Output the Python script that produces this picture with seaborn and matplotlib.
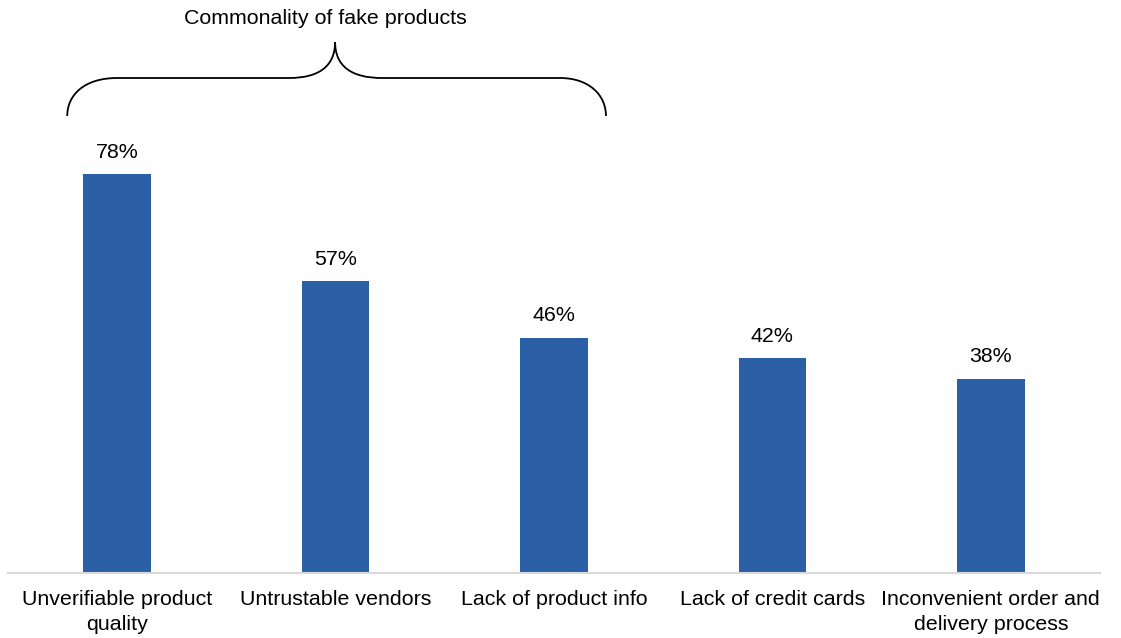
import numpy as np
import pandas as pd
import matplotlib
matplotlib.use('Agg')
import matplotlib.pyplot as plt
from matplotlib.path import Path
from matplotlib.patches import PathPatch
import seaborn as sns

# data
categories = ['Unverifiable product\nquality', 'Untrustable vendors', 'Lack of product info',
              'Lack of credit cards', 'Inconvenient order and\ndelivery process']
values = [78, 57, 46, 42, 38]
bracket_title = 'Commonality of fake products'

df = pd.DataFrame({'cat': categories, 'val': values})

sns.set_style('white')
plt.rcParams['font.family'] = ['Liberation Sans', 'DejaVu Sans']

W, H = 1121, 638
fig = plt.figure(figsize=(W/100, H/100), dpi=100)

# axes placement in pixels
x0, x1 = 8, 1100
ybase = 573
ppu = 5.115      # pixels per percent
ax = fig.add_axes([x0/W, (H-ybase)/H, (x1-x0)/W, 100*ppu/H])

_fs = 15.4
bar_col = '#2B5FA6'
sns.barplot(data=df, x='cat', y='val', ax=ax, color=bar_col, width=0.31,
            saturation=1, edgecolor='none')

ax.set_xlim(-0.5, 4.5)
ax.set_ylim(0, 100)
ax.set_xlabel('')
ax.set_ylabel('')
ax.set_yticks([])
for s in ['top', 'right', 'left']:
    ax.spines[s].set_visible(False)
ax.spines['bottom'].set_color('#d9d9d9')
ax.spines['bottom'].set_linewidth(1.5)
ax.tick_params(axis='x', length=0, pad=12, labelsize=_fs, labelcolor='black')
for t in ax.get_xticklabels():
    t.set_linespacing(1.45)

for i, v in enumerate(values):
    ax.text(i, v + 2.4, f'{v}%', ha='center', va='bottom', fontsize=_fs, color='black')

# brace (pixel coords -> data coords)
cx, step = 118, 218.5
def px2d(px, py):
    return ((px - cx)/step, (ybase - py)/ppu)

pts_px = [(68, 116),
          (68, 95), (85, 78), (118, 78),
          (290, 78),
          (320, 78), (336, 66), (336, 42),
          (336, 66), (352, 78), (383, 78),
          (561, 78),
          (590, 78), (607, 95), (607, 116)]
codes = [Path.MOVETO,
         Path.CURVE4, Path.CURVE4, Path.CURVE4,
         Path.LINETO,
         Path.CURVE4, Path.CURVE4, Path.CURVE4,
         Path.CURVE4, Path.CURVE4, Path.CURVE4,
         Path.LINETO,
         Path.CURVE4, Path.CURVE4, Path.CURVE4]
verts = [px2d(*p) for p in pts_px]
brace = PathPatch(Path(verts, codes), facecolor='none', edgecolor='black', lw=1.3, clip_on=False)
ax.add_patch(brace)

tx, ty = px2d(326, 18)
ax.text(tx, ty, bracket_title, ha='center', va='center', fontsize=_fs, color='black', clip_on=False)

fig.savefig('out.png', dpi=100)
